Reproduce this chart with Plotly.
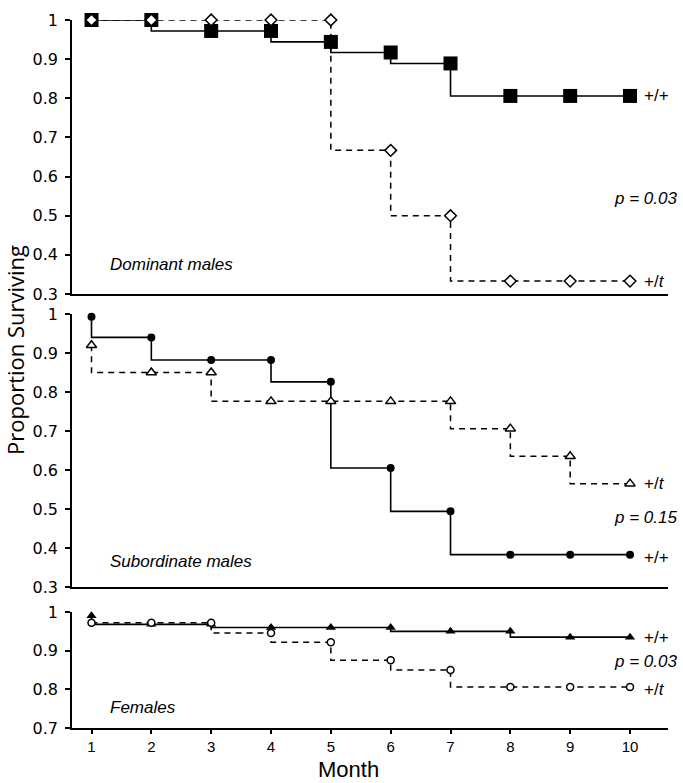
import plotly.graph_objects as go
from plotly.subplots import make_subplots

months = [1, 2, 3, 4, 5, 6, 7, 8, 9, 10]

# Dominant males
dom_wt = [1.0, 1.0, 0.972, 0.972, 0.944, 0.917, 0.889, 0.806, 0.806, 0.806]
dom_t = [1.0, 1.0, 1.0, 1.0, 1.0, 0.667, 0.5, 0.333, 0.333, 0.333]
# Subordinate males
sub_wt = [0.993, 0.94, 0.882, 0.882, 0.826, 0.605, 0.494, 0.383, 0.383, 0.383]
sub_t = [0.92, 0.85, 0.85, 0.776, 0.776, 0.776, 0.776, 0.706, 0.635, 0.565]
# Females
fem_wt = [0.99, 0.968, 0.968, 0.96, 0.96, 0.96, 0.95, 0.95, 0.935, 0.935]
fem_t = [0.972, 0.972, 0.972, 0.946, 0.922, 0.875, 0.85, 0.806, 0.806, 0.806]

panel_names = ["Dominant males", "Subordinate males", "Females"]
p_values = ["p = 0.03", "p = 0.15", "p = 0.03"]
y_ticks_main = [0.3, 0.4, 0.5, 0.6, 0.7, 0.8, 0.9, 1]
y_ticks_fem = [0.7, 0.8, 0.9, 1]

W, H = 683, 783
ML, MR, MT, MB = 72, 15, 20, 55

fig = make_subplots(rows=3, cols=1, shared_xaxes=True, vertical_spacing=0.02)

ph = H - MT - MB
def dom(top_px, bot_px):
    return [(H - MB - bot_px) / ph, (H - MB - top_px) / ph]

SANS = "Liberation Sans"
solid = dict(color="black", width=1.6, shape="vh")
dashed = dict(color="black", width=1.5, shape="vh", dash="6px,5px")

# Top
fig.add_trace(go.Scatter(x=months, y=dom_wt, mode="lines+markers", line=solid,
                         marker=dict(symbol="square", size=14, color="black"),
                         cliponaxis=False, showlegend=False), row=1, col=1)
fig.add_trace(go.Scatter(x=months, y=dom_t, mode="lines+markers", line=dashed,
                         marker=dict(symbol="diamond", size=9, color="white",
                                     line=dict(color="black", width=1.5)),
                         cliponaxis=False, showlegend=False), row=1, col=1)
# Middle
fig.add_trace(go.Scatter(x=months, y=sub_wt, mode="lines+markers", line=solid,
                         marker=dict(symbol="circle", size=8, color="black"),
                         cliponaxis=False, showlegend=False), row=2, col=1)
fig.add_trace(go.Scatter(x=months, y=sub_t, mode="lines+markers", line=dashed,
                         marker=dict(symbol="triangle-up", size=9, color="white",
                                     line=dict(color="black", width=1.5)),
                         cliponaxis=False, showlegend=False), row=2, col=1)
# Bottom
fig.add_trace(go.Scatter(x=months, y=fem_wt, mode="lines+markers", line=solid,
                         marker=dict(symbol="triangle-up", size=9, color="black"),
                         cliponaxis=False, showlegend=False), row=3, col=1)
fig.add_trace(go.Scatter(x=months, y=fem_t, mode="lines+markers", line=dashed,
                         marker=dict(symbol="circle", size=7, color="white",
                                     line=dict(color="black", width=1.5)),
                         cliponaxis=False, showlegend=False), row=3, col=1)

yfont = dict(family="DejaVu Sans", size=16, color="black")
common_y = dict(showline=True, linecolor="black", linewidth=1.5, ticks="outside",
                ticklen=5, tickwidth=1.5, tickcolor="black", showgrid=False,
                zeroline=False, tickfont=yfont, ticklabelstandoff=4)
fig.update_yaxes(range=[0.3, 1.0], tickvals=y_ticks_main, domain=dom(20, 294),
                 row=1, col=1, **common_y)
fig.update_yaxes(range=[0.3, 1.0], tickvals=y_ticks_main, domain=dom(314, 587),
                 row=2, col=1, **common_y)
fig.update_yaxes(range=[0.7, 1.0], tickvals=y_ticks_fem, domain=dom(612, 728),
                 row=3, col=1, **common_y)

common_x = dict(range=[0.674, 10.635], showline=True, linecolor="black", linewidth=2,
                showgrid=False, zeroline=False)
fig.update_xaxes(row=1, col=1, ticks="", showticklabels=False, **common_x)
fig.update_xaxes(row=2, col=1, ticks="", showticklabels=False, **common_x)
fig.update_xaxes(row=3, col=1, ticks="outside", ticklen=4, tickwidth=1.5, tickcolor="black",
                 tickvals=months, showticklabels=True, ticklabelstandoff=0,
                 tickfont=dict(family=SANS, size=15, color="black"), **common_x)

ann_font = dict(family=SANS, size=17, color="black")
name_y = [0.375, 0.365, 0.752]
wt_lab_y = [0.806, 0.375, 0.935]
t_lab_y = [0.333, 0.565, 0.8]
p_y = [0.545, 0.477, 0.872]
for i in range(3):
    xr = "x" if i == 0 else f"x{i+1}"
    yr = "y" if i == 0 else f"y{i+1}"
    fig.add_annotation(x=1.28, y=name_y[i], xref=xr, yref=yr, text=f"<i>{panel_names[i]}</i>",
                       showarrow=False, xanchor="left", yanchor="middle", font=ann_font)
    fig.add_annotation(x=10.2, y=wt_lab_y[i], xref=xr, yref=yr, text="+/+",
                       showarrow=False, xanchor="left", yanchor="middle", font=ann_font)
    fig.add_annotation(x=10.2, y=t_lab_y[i], xref=xr, yref=yr, text="+/<i>t</i>",
                       showarrow=False, xanchor="left", yanchor="middle", font=ann_font)
    fig.add_annotation(x=1.0, y=p_y[i], xref="paper", yref=yr, text=f"<i>{p_values[i]}</i>",
                       showarrow=False, xanchor="right", yanchor="middle", font=ann_font,
                       xshift=11)

fig.add_annotation(x=(348 - ML) / (W - ML - MR), y=(H - MB - 783) / ph, xref="paper", yref="paper",
                   text="Month", showarrow=False, xanchor="center", yanchor="bottom",
                   font=dict(family=SANS, size=22, color="black"), borderpad=0)
fig.add_annotation(x=(15 - ML) / (W - ML - MR), y=(H - MB - 350) / ph, xref="paper", yref="paper",
                   text="Proportion Surviving", textangle=-90, showarrow=False,
                   xanchor="center", yanchor="middle",
                   font=dict(family="Open Sans", size=22, color="black"))

fig.update_layout(width=W, height=H, margin=dict(l=ML, r=MR, t=MT, b=MB),
                  plot_bgcolor="white", paper_bgcolor="white", showlegend=False)

fig.write_html("out.html")
